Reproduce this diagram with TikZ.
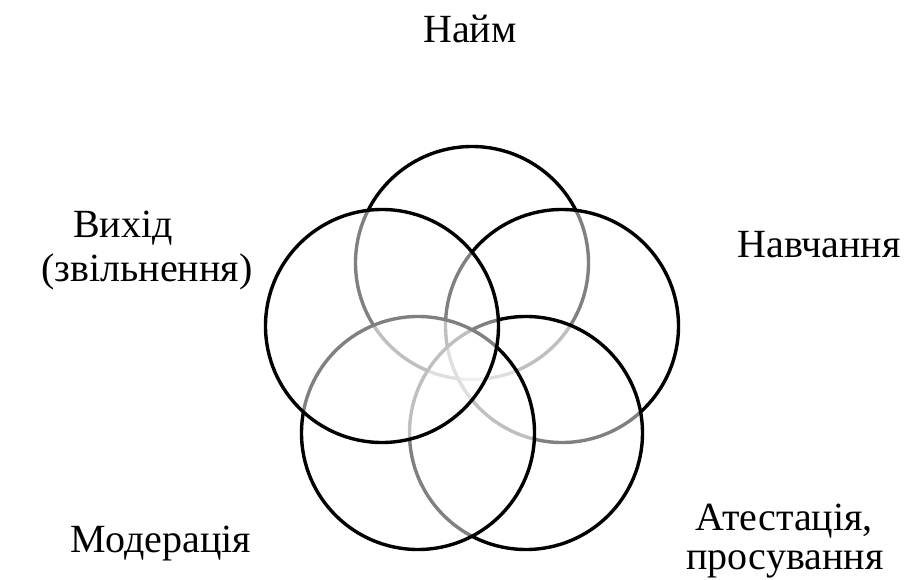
\documentclass[tikz,border=0pt]{standalone}
\usepackage{fontspec}
\setmainfont{Liberation Serif}
\begin{document}
\begin{tikzpicture}[x=1pt,y=-1pt,
  ring/.style={circle, draw=black, line width=3.4pt, fill=white, fill opacity=0.5, draw opacity=1, minimum size=233pt, inner sep=0pt},
  lab/.style={font=\fontsize{40}{48}\selectfont, anchor=base, inner sep=0pt}]
\useasboundingbox (0,0) rectangle (911,580);
\fill[white] (0,0) rectangle (911,580);
% circles, drawn in layering order
\node[ring] (top)   at (472,263) {};
\node[ring] (right) at (562,326) {};
\node[ring] (br)    at (526,433) {};
\node[ring] (bl)    at (418,433) {};
\node[ring] (left)  at (382,326) {};
% labels
\node[lab] (l1)  at (470,43)  {Найм};
\node[lab] (l2a) at (123,238) {Вихід};
\node[lab] (l2b) at (147,282) {(звільнення)};
\node[lab] (l3)  at (819,258) {Навчання};
\node[lab] (l4a) at (784,530) {Атестація,};
\node[lab] (l4b) at (785,569) {просування};
\node[lab] (l5)  at (161,552) {Модерація};
\end{tikzpicture}
\end{document}
